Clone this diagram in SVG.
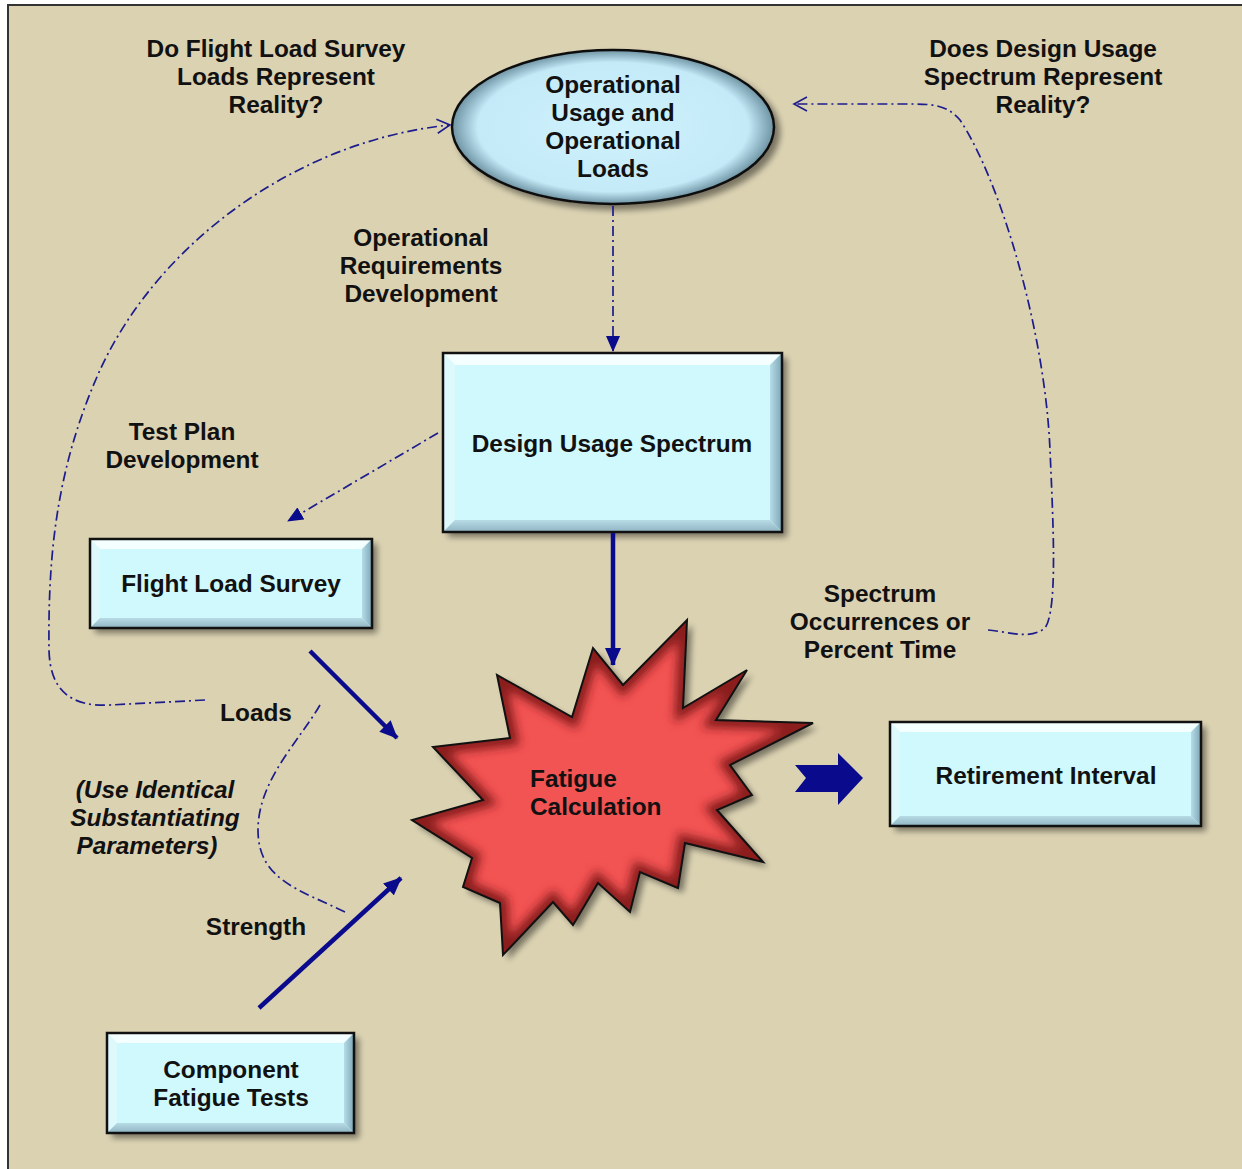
<svg xmlns="http://www.w3.org/2000/svg" width="1242" height="1169" viewBox="0 0 1242 1169">
  <style>
    .t { font-family: "Liberation Sans", Arial, sans-serif; font-weight: bold; font-size: 24.4px; fill: #111; text-anchor: middle; }
    .it { font-style: italic; }
    .lt { text-anchor: start; }
    .dd { fill: none; stroke: #1c1c8c; stroke-width: 1.7; stroke-dasharray: 10 4 2 4; }
    .solid { fill: none; stroke: #0a0a8c; stroke-width: 4.5; }
    .face { fill: #cff9fd; }
    .bevT { fill: #f4ffff; }
    .bevL { fill: #def9fc; }
    .bevR { fill: url(#gR); }
    .bevB { fill: url(#gB); }
    .edge { fill: none; stroke: #111; stroke-width: 2.5; }
  </style>
  <defs>
    <filter id="sh" x="-10%" y="-10%" width="130%" height="140%">
      <feGaussianBlur in="SourceAlpha" stdDeviation="3"/>
      <feOffset dx="5" dy="5" result="b"/>
      <feComponentTransfer><feFuncA type="linear" slope="0.45"/></feComponentTransfer>
      <feMerge><feMergeNode/><feMergeNode in="SourceGraphic"/></feMerge>
    </filter>
    <linearGradient id="gR" x1="0" y1="0" x2="1" y2="0">
      <stop offset="0" stop-color="#b6dce8"/>
      <stop offset="1" stop-color="#7ea6b6"/>
    </linearGradient>
    <linearGradient id="gB" x1="0" y1="0" x2="0" y2="1">
      <stop offset="0" stop-color="#b8dce6"/>
      <stop offset="1" stop-color="#8fb4c2"/>
    </linearGradient>
    <radialGradient id="gE" cx="0.5" cy="0.5" r="0.5">
      <stop offset="0" stop-color="#cff2fc"/>
      <stop offset="0.84" stop-color="#c4eaf8"/>
      <stop offset="1" stop-color="#6e93a3"/>
    </radialGradient>
    <clipPath id="starClip">
      <polygon id="starShape" points="687,620 683,708 747,670 716,720 813,723 730,765 752,795 717,810 763,862 685,843 678,888 640,872 630,912 598,883 573,925 553,902 503,955 500,903 463,887 472,858 412,820 483,800 433,747 510,738 497,675 572,717 593,648 623,685"/>
    </clipPath>
    <filter id="soft" x="-20%" y="-20%" width="140%" height="140%">
      <feGaussianBlur stdDeviation="5"/>
    </filter>
    <marker id="fillHead" markerUnits="userSpaceOnUse" markerWidth="18" markerHeight="16" viewBox="0 0 18 16" refX="17" refY="8" orient="auto">
      <path d="M0,0 L18,8 L0,16 z" fill="#0a0a8c"/>
    </marker>
    <marker id="smallHead" markerUnits="userSpaceOnUse" markerWidth="16" markerHeight="14" viewBox="0 0 16 14" refX="15" refY="7" orient="auto">
      <path d="M0,0 L16,7 L0,14 z" fill="#0a0a8c"/>
    </marker>
    <marker id="openHead" markerUnits="userSpaceOnUse" markerWidth="16" markerHeight="16" viewBox="0 0 16 16" refX="14" refY="8" orient="auto">
      <path d="M1,1 L14,8 L1,15" fill="none" stroke="#1c1c8c" stroke-width="1.6"/>
    </marker>
  </defs>

  <!-- page background and frame -->
  <rect x="0" y="0" width="1242" height="1169" fill="#ffffff"/>
  <rect x="8" y="5" width="1250" height="1180" fill="#dbd2b2" stroke="#333" stroke-width="2"/>

  <!-- Operational Usage and Operational Loads -->
  <g id="node-operational">
    <ellipse cx="613" cy="127" rx="161" ry="77" fill="url(#gE)" stroke="#111" stroke-width="2.5" filter="url(#sh)"/>
    <text class="t" x="613" y="93">Operational</text>
    <text class="t" x="613" y="121">Usage and</text>
    <text class="t" x="613" y="149">Operational</text>
    <text class="t" x="613" y="177">Loads</text>
  </g>

  <!-- Design Usage Spectrum -->
  <g id="node-design-usage">
    <rect x="443" y="353" width="339" height="179" class="face" filter="url(#sh)"/>
    <polygon class="bevT" points="443,353 782,353 770,365 455,365"/>
    <polygon class="bevL" points="443,353 455,365 455,520 443,532"/>
    <polygon class="bevR" points="782,353 782,532 770,520 770,365"/>
    <polygon class="bevB" points="443,532 455,520 770,520 782,532"/>
    <rect x="443" y="353" width="339" height="179" class="edge"/>
    <text class="t" x="612" y="452">Design Usage Spectrum</text>
  </g>

  <!-- Flight Load Survey -->
  <g id="node-flight-load">
    <rect x="90" y="539" width="282" height="89" class="face" filter="url(#sh)"/>
    <polygon class="bevT" points="90,539 372,539 362,549 100,549"/>
    <polygon class="bevL" points="90,539 100,549 100,618 90,628"/>
    <polygon class="bevR" points="372,539 372,628 362,618 362,549"/>
    <polygon class="bevB" points="90,628 100,618 362,618 372,628"/>
    <rect x="90" y="539" width="282" height="89" class="edge"/>
    <text class="t" x="231" y="592">Flight Load Survey</text>
  </g>

  <!-- Retirement Interval -->
  <g id="node-retirement">
    <rect x="890" y="722" width="311" height="104" class="face" filter="url(#sh)"/>
    <polygon class="bevT" points="890,722 1201,722 1191,732 900,732"/>
    <polygon class="bevL" points="890,722 900,732 900,816 890,826"/>
    <polygon class="bevR" points="1201,722 1201,826 1191,816 1191,732"/>
    <polygon class="bevB" points="890,826 900,816 1191,816 1201,826"/>
    <rect x="890" y="722" width="311" height="104" class="edge"/>
    <text class="t" x="1046" y="784">Retirement Interval</text>
  </g>

  <!-- Component Fatigue Tests -->
  <g id="node-component">
    <rect x="107" y="1033" width="247" height="100" class="face" filter="url(#sh)"/>
    <polygon class="bevT" points="107,1033 354,1033 344,1043 117,1043"/>
    <polygon class="bevL" points="107,1033 117,1043 117,1123 107,1133"/>
    <polygon class="bevR" points="354,1033 354,1133 344,1123 344,1043"/>
    <polygon class="bevB" points="107,1133 117,1123 344,1123 354,1133"/>
    <rect x="107" y="1033" width="247" height="100" class="edge"/>
    <text class="t" x="231" y="1078">Component</text>
    <text class="t" x="231" y="1106">Fatigue Tests</text>
  </g>

  <!-- Fatigue Calculation burst -->
  <g id="node-fatigue">
    <use href="#starShape" fill="#f25252" filter="url(#sh)"/>
    <g clip-path="url(#starClip)">
      <use href="#starShape" fill="none" stroke="#8a1f1f" stroke-width="16" filter="url(#soft)"/>
    </g>
    <use href="#starShape" fill="none" stroke="#111" stroke-width="2"/>
    <text class="t lt" x="530" y="787">Fatigue</text>
    <text class="t lt" x="530" y="815">Calculation</text>
  </g>

  <!-- free labels -->
  <g id="labels">
    <text class="t" x="276" y="57">Do Flight Load Survey</text>
    <text class="t" x="276" y="85">Loads Represent</text>
    <text class="t" x="276" y="113">Reality?</text>
    <text class="t" x="1043" y="57">Does Design Usage</text>
    <text class="t" x="1043" y="85">Spectrum Represent</text>
    <text class="t" x="1043" y="113">Reality?</text>
    <text class="t" x="421" y="246">Operational</text>
    <text class="t" x="421" y="274">Requirements</text>
    <text class="t" x="421" y="302">Development</text>
    <text class="t" x="182" y="440">Test Plan</text>
    <text class="t" x="182" y="468">Development</text>
    <text class="t" x="880" y="602">Spectrum</text>
    <text class="t" x="880" y="630">Occurrences or</text>
    <text class="t" x="880" y="658">Percent Time</text>
    <text class="t" x="256" y="721">Loads</text>
    <text class="t it" x="155" y="798">(Use Identical</text>
    <text class="t it" x="155" y="826">Substantiating</text>
    <text class="t it" x="147" y="854">Parameters)</text>
    <text class="t" x="256" y="935">Strength</text>
  </g>

  <!-- connectors -->
  <g id="connectors">
    <path class="dd" d="M613,206 L613,351" marker-end="url(#smallHead)"/>
    <path class="dd" d="M438,433 L288,521" marker-end="url(#smallHead)"/>
    <path class="dd" d="M205,700 L110,705 C70,707 50,690 49,650 C48,560 55,470 100,370 C160,240 300,140 450,125" marker-end="url(#openHead)"/>
    <path class="dd" d="M988,630 C1010,632 1030,640 1045,628 C1058,610 1053,520 1050,450 C1045,330 1000,180 960,120 C945,103 930,104 900,104 L794,104" marker-end="url(#openHead)"/>
    <path class="dd" d="M320,705 C300,740 258,780 258,830 C258,880 300,890 345,912"/>
    <path class="solid" d="M613,533 L613,665" marker-end="url(#fillHead)"/>
    <path class="solid" d="M310,651 L397,738" marker-end="url(#fillHead)"/>
    <path class="solid" d="M259,1008 L401,878" marker-end="url(#fillHead)"/>
    <polygon points="795,765 838,765 838,753 863,778 838,805 838,792 795,792 806,778" fill="#0a0a8c"/>
  </g>
</svg>
